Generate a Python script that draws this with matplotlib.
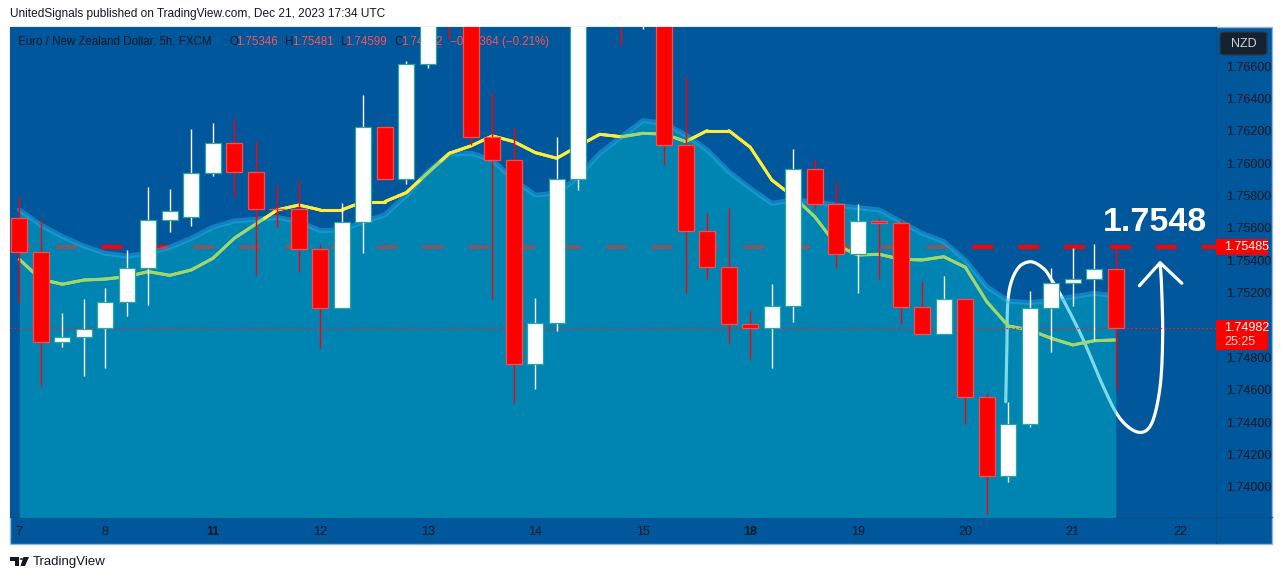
import numpy as np
import matplotlib
matplotlib.use("Agg")
import matplotlib.pyplot as plt
from matplotlib.collections import LineCollection
from matplotlib.patches import Rectangle, FancyBboxPatch, Polygon, Circle
from matplotlib.transforms import blended_transform_factory

plt.rcParams['font.family'] = ['Liberation Sans', 'DejaVu Sans']
plt.rcParams['lines.scale_dashes'] = False

# ---------------- data ----------------
opens = [1.75659, 1.75449, 1.74893, 1.74924, 1.74982, 1.75140, 1.75350, 1.75647, 1.75666, 1.75937,
         1.76123, 1.75943, 1.75719, 1.75717, 1.75468, 1.75103, 1.75635, 1.76221, 1.75900, 1.76612,
         1.76990, 1.76900, 1.76160, 1.76019, 1.74759, 1.75011, 1.75900, 1.76950, 1.77080, 1.76900,
         1.77000, 1.76112, 1.75581, 1.75357, 1.75006, 1.74984, 1.75119, 1.75962, 1.75748, 1.75437,
         1.75645, 1.75628, 1.75109, 1.74945, 1.75159, 1.74554, 1.74068, 1.74387, 1.75107, 1.75258,
         1.75283, 1.75346]
highs = [1.75793, 1.75653, 1.75076, 1.75163, 1.75231, 1.75464, 1.75854, 1.75840, 1.76211, 1.76246,
         1.76273, 1.76137, 1.75865, 1.75896, 1.75501, 1.75756, 1.76421, 1.76229, 1.76631, 1.77030,
         1.77050, 1.76960, 1.76435, 1.76219, 1.75169, 1.76163, 1.77050, 1.77150, 1.77120, 1.77100,
         1.77050, 1.76530, 1.75694, 1.75721, 1.75087, 1.75252, 1.76087, 1.76024, 1.75882, 1.75748,
         1.75663, 1.75649, 1.75274, 1.75303, 1.75159, 1.74578, 1.74527, 1.75210, 1.75354, 1.75478,
         1.75501, 1.75481]
lows = [1.75134, 1.74625, 1.74866, 1.74687, 1.74737, 1.75058, 1.75124, 1.75577, 1.75614, 1.75922,
        1.75789, 1.75309, 1.75607, 1.75326, 1.74856, 1.75103, 1.75443, 1.75900, 1.75871, 1.76590,
        1.76767, 1.76112, 1.75159, 1.74520, 1.74603, 1.74965, 1.75834, 1.76880, 1.76730, 1.76830,
        1.75989, 1.75200, 1.75283, 1.74887, 1.74790, 1.74733, 1.75021, 1.75715, 1.75350, 1.75200,
        1.75283, 1.75006, 1.74945, 1.74945, 1.74389, 1.73831, 1.74032, 1.74368, 1.74835, 1.75119,
        1.74908, 1.74599]
closes = [1.75449, 1.74893, 1.74924, 1.74977, 1.75140, 1.75350, 1.75647, 1.75703, 1.75937, 1.76123,
          1.75943, 1.75717, 1.75715, 1.75468, 1.75103, 1.75635, 1.76221, 1.75900, 1.76611, 1.76990,
          1.76900, 1.76160, 1.76019, 1.74759, 1.75011, 1.75900, 1.76950, 1.77080, 1.76900, 1.77000,
          1.76112, 1.75581, 1.75357, 1.75006, 1.74984, 1.75119, 1.75962, 1.75748, 1.75437, 1.75645,
          1.75630, 1.75113, 1.74945, 1.75159, 1.74554, 1.74068, 1.74387, 1.75103, 1.75258, 1.75283,
          1.75344, 1.74982]
fast_ma = [1.75406, 1.75283, 1.75252, 1.75278, 1.75284, 1.75299, 1.75330, 1.75307, 1.75340, 1.75412,
           1.75536, 1.75624, 1.75711, 1.75741, 1.75711, 1.75711, 1.75762, 1.75762, 1.75818, 1.75940,
           1.76061, 1.76106, 1.76168, 1.76133, 1.76065, 1.76030, 1.76106, 1.76178, 1.76163, 1.76184,
           1.76180, 1.76133, 1.76201, 1.76201, 1.76098, 1.75896, 1.75793, 1.75669, 1.75494, 1.75433,
           1.75437, 1.75406, 1.75402, 1.75422, 1.75357, 1.75144, 1.74994, 1.74969, 1.74918, 1.74877,
           1.74903, 1.74908]
slow_ma = [1.75711, 1.75618, 1.75546, 1.75488, 1.75443, 1.75426, 1.75443, 1.75480, 1.75536, 1.75604,
           1.75643, 1.75653, 1.75665, 1.75638, 1.75583, 1.75587, 1.75638, 1.75680, 1.75803, 1.75947,
           1.76056, 1.76061, 1.76019, 1.75896, 1.75803, 1.75814, 1.75916, 1.76061, 1.76163, 1.76262,
           1.76246, 1.76174, 1.76081, 1.75947, 1.75844, 1.75752, 1.75772, 1.75762, 1.75741, 1.75725,
           1.75711, 1.75638, 1.75566, 1.75515, 1.75402, 1.75237, 1.75148, 1.75138, 1.75155, 1.75175,
           1.75196, 1.75179]
day_labels = ['7', '8', '11', '12', '13', '14', '15', '18', '19', '20', '21', '22']
day_pos = [0, 4, 9, 14, 19, 24, 29, 34, 39, 44, 49, 54]
bold_days = ['11', '18']
price_ticks = [1.740, 1.742, 1.744, 1.746, 1.748, 1.752, 1.754, 1.756, 1.758, 1.760, 1.762, 1.764, 1.766]
level_price = 1.75485
level_text = '1.7548'
last_price = 1.74982
countdown = '25:25'
header_name = 'Euro / New Zealand Dollar, 5h, FXCM'
ohlc_text = [('O', '1.75346'), ('H', '1.75481'), ('L', '1.74599'), ('C', '1.74982')]
change_text = '\u22120.00364 (\u22120.21%)'
# hand-drawn arrow path (index, price)
arrow_x = [45.88, 45.93, 46.00, 46.39, 47.01, 47.63, 48.02, 48.56, 49.49, 50.42, 51.19, 52.05,
           52.67, 53.06, 53.18, 53.13, 53.06]
arrow_y = [1.74526, 1.74825, 1.75175, 1.75340, 1.75391, 1.75350, 1.75278, 1.75155, 1.74908,
           1.74619, 1.74424, 1.74338, 1.74393, 1.74619, 1.74928, 1.75237, 1.75381]
head_x = [52.10, 53.06, 54.07]
head_y = [1.75243, 1.75385, 1.75258]

# ---------------- figure ----------------
W, H = 1283, 580
fig = plt.figure(figsize=(W / 100, H / 100), dpi=100)
fig.patch.set_facecolor('white')

def P(x, y):
    return (x / W, 1 - y / H)

BG = '#01579B'
TXT = '#131722'
RED_TXT = '#FF5252'

# chart frame (behind the axes)
fig.patches.append(Rectangle(P(10, 543.5), 1262 / W, 516.5 / H, transform=fig.transFigure,
                             facecolor=BG, edgecolor='#93B8DE', lw=1.0, zorder=-5))

ax = fig.add_axes([10 / W, 1 - 516.7 / H, 1205.5 / W, 489.7 / H])
ax.set_zorder(1)
ax.set_facecolor(BG)
for s in ax.spines.values():
    s.set_visible(False)

n = len(opens)
idx = np.arange(n)
px_per_unit = 21.5
xmin = -(19.3 - 10) / px_per_unit
xmax = xmin + 1205.5 / px_per_unit
ax.set_xlim(xmin, xmax)
ax.set_ylim(1.738162, 1.768409)

# header texts (behind candles, inside the chart pane)
renderer = fig.canvas.get_renderer()

def chain(x, s, color, gap):
    t = ax.text(*P(x, 42), s, color=color, fontsize=8.3, ha='left', va='center',
                transform=fig.transFigure, zorder=0.8, clip_on=False)
    w = t.get_window_extent(renderer=renderer).width
    return x + w + gap

hx = chain(17.5, header_name, TXT, 10)
hx = max(hx, 229)
for k, v in ohlc_text:
    hx = chain(hx, k, TXT, -1.5)
    hx = chain(hx, v, RED_TXT, 7)
chain(hx, change_text, RED_TXT, 0)

# level dashed line (under area)
ax.axhline(level_price, color='#FF0000', lw=3.0, linestyle=(0, (15, 18)), dash_capstyle='butt', zorder=1)

# arrow drawing (under area) - Catmull-Rom smoothing
def catmull(xs, ys, k=12):
    pts = np.column_stack([xs, ys])
    pts = np.vstack([pts[0], pts, pts[-1]])
    out = []
    for i in range(1, len(pts) - 2):
        p0, p1, p2, p3 = pts[i - 1], pts[i], pts[i + 1], pts[i + 2]
        for t in np.linspace(0, 1, k, endpoint=False):
            t2, t3 = t * t, t * t * t
            out.append(0.5 * ((2 * p1) + (-p0 + p2) * t + (2 * p0 - 5 * p1 + 4 * p2 - p3) * t2 +
                              (-p0 + 3 * p1 - 3 * p2 + p3) * t3))
    out.append(pts[-2])
    return np.array(out)

curve = catmull(arrow_x, arrow_y)
ax.plot(curve[:, 0], curve[:, 1], color='white', lw=2.3, solid_capstyle='round', zorder=1.5)
ax.plot(head_x, head_y, color='white', lw=2.3, solid_capstyle='round', solid_joinstyle='round', zorder=1.5)

# area under slow MA
ax.fill_between(idx, slow_ma, 1.7381, color=(0.0, 0.70, 0.80), alpha=0.5, lw=0, zorder=2)
ax.plot(idx, slow_ma, color='#2AB0EE', lw=3.6, alpha=0.45, zorder=2.5, solid_capstyle='round')

# fast MA two-colour
dense = np.linspace(0, n - 1, (n - 1) * 20 + 1)
fd = np.interp(dense, idx, fast_ma)
sd = np.interp(dense, idx, slow_ma)
segs = np.stack([np.column_stack([dense[:-1], fd[:-1]]), np.column_stack([dense[1:], fd[1:]])], axis=1)
diff = 0.5 * ((fd[:-1] - sd[:-1]) + (fd[1:] - sd[1:]))
cols = np.where(diff[:, None] >= 0, np.array([[1.0, 0.92, 0.23]]), np.array([[0.63, 0.84, 0.42]]))
ax.add_collection(LineCollection(segs, colors=cols, linewidths=2.2, capstyle='round', zorder=3))

# last price dotted line
ax.axhline(last_price, color='#FF1A1A', lw=0.9, linestyle=(0, (1.2, 1.8)), zorder=3.5)

# candles
o = np.array(opens); c = np.array(closes); h = np.array(highs); l = np.array(lows)
up = c >= o
wick_cols = np.where(up, 'white', '#FF0000')
ax.vlines(idx, l, h, colors=list(wick_cols), lw=1.0, zorder=4)
bottoms = np.minimum(o, c)
heights = np.abs(c - o)
ax.bar(idx[up], heights[up], bottom=bottoms[up], width=0.74, color='white',
       edgecolor='#2BA69A', lw=0.9, zorder=4.5)
ax.bar(idx[~up], heights[~up], bottom=bottoms[~up], width=0.74, color='#FF0000',
       edgecolor='#F25050', lw=0.9, zorder=4.5)

# level annotation text
ax.text(50.4, 1.75578, level_text, color='white', fontsize=24.5, fontweight='bold',
        ha='left', va='baseline', zorder=6, clip_on=False)

# axes ticks
ax.yaxis.tick_right()
ax.set_yticks(price_ticks)
ax.set_yticklabels(['%.5f' % t for t in price_ticks])
ax.tick_params(axis='y', length=0, pad=7.5, labelsize=9, labelcolor=TXT)
ax.set_xticks(day_pos)
ax.set_xticklabels(day_labels)
ax.tick_params(axis='x', length=0, pad=7, labelsize=9, labelcolor=TXT)
for lab in ax.get_xticklabels():
    if lab.get_text() in bold_days:
        lab.set_fontweight('bold')

# price label boxes on the axis
bt = blended_transform_factory(ax.transAxes, ax.transData)
ylo, yhi = ax.get_ylim()
ppx = (yhi - ylo) / 489.7
x0 = 1.0
x1 = (1268 - 10) / 1205.5
xt = (1224 - 10) / 1205.5
ax.add_patch(Rectangle((x0, level_price - 8 * ppx), x1 - x0, 16 * ppx, transform=bt,
                       facecolor='#FF0000', edgecolor='none', clip_on=False, zorder=7))
ax.text(xt, level_price, '%.5f' % level_price, transform=bt, color='white',
        fontsize=9, va='center', ha='left', clip_on=False, zorder=8)
ax.add_patch(Rectangle((x0, last_price - 22 * ppx), x1 - x0, 30 * ppx, transform=bt,
                       facecolor='#FF0000', edgecolor='none', clip_on=False, zorder=7))
ax.text(xt, last_price, '%.5f' % last_price, transform=bt, color='white',
        fontsize=9, va='center', ha='left', clip_on=False, zorder=8)
ax.text(xt, last_price - 14.5 * ppx, countdown, transform=bt, color='#FFD6D6',
        fontsize=9, va='center', ha='left', clip_on=False, zorder=8)

# separators
fig.add_artist(plt.Line2D([1215.5 / W, 1215.5 / W], [1 - 27 / H, 1 - 543 / H], color='#0A4D88', lw=0.8, zorder=0.5))
fig.add_artist(plt.Line2D([10 / W, 1272 / W], [1 - 516.7 / H, 1 - 516.7 / H], color='#0A4D88', lw=0.8, zorder=0.5))

# NZD box
fig.add_artist(FancyBboxPatch(P(1220, 55), 47 / W, 23 / H, boxstyle='round,pad=0,rounding_size=0.004',
                              transform=fig.transFigure, facecolor='#172230', edgecolor='#2A3A50',
                              lw=0.8, zorder=5))
fig.text(*P(1243.5, 44), 'NZD', color='#D1D4DC', fontsize=9, ha='center', va='center', zorder=6)

# top attribution
fig.text(*P(10, 14), 'UnitedSignals published on TradingView.com, Dec 21, 2023 17:34 UTC',
         color=TXT, fontsize=8.6, ha='left', va='center')

# bottom logo
fig.add_artist(Rectangle(P(10, 560.5), 9 / W, 3.5 / H, transform=fig.transFigure, facecolor=TXT, lw=0))
fig.add_artist(Rectangle(P(14.5, 566), 4.5 / W, 9 / H, transform=fig.transFigure, facecolor=TXT, lw=0))
fig.add_artist(Circle(P(21.5, 559), 1.8 / W, transform=fig.transFigure, facecolor=TXT, lw=0))
fig.add_artist(Polygon([P(23.5, 557), P(29, 557), P(25, 566), P(20.5, 566)], closed=True,
                       transform=fig.transFigure, facecolor=TXT, lw=0))
fig.text(*P(33, 562), 'TradingView', color=TXT, fontsize=9.5, ha='left', va='center')

fig.savefig('out.png', dpi=100, facecolor='white')
